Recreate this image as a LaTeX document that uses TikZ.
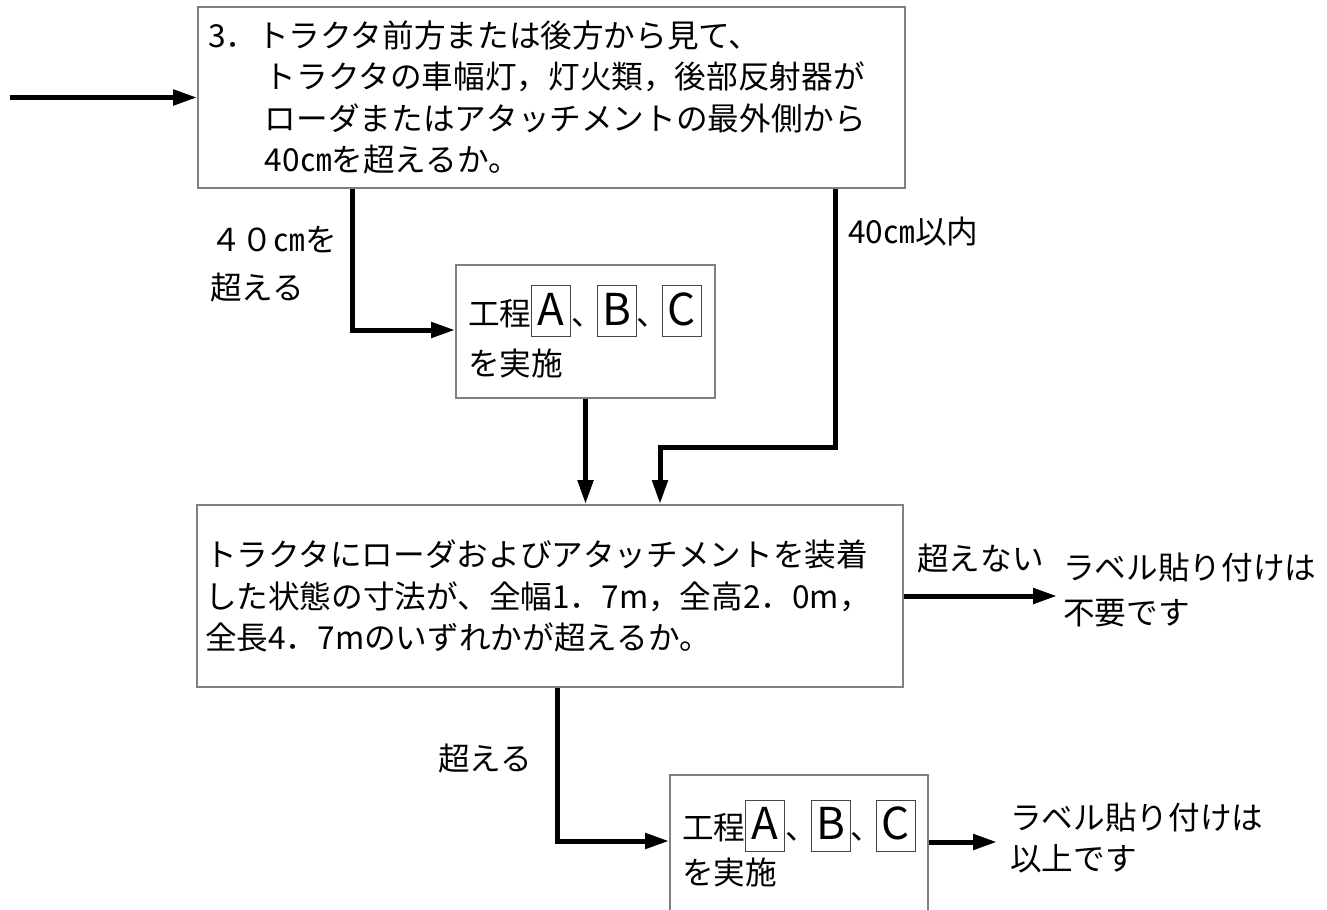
\documentclass[tikz,border=0pt]{standalone}
\usepackage{fontspec}
\setmainfont{Noto Sans CJK JP}
\usetikzlibrary{arrows.meta}
\definecolor{boxgray}{RGB}{128,128,128}
\definecolor{wakugray}{RGB}{70,70,70}
\newcommand{\wakumoji}[1]{{\setlength{\fboxsep}{0pt}\setlength{\fboxrule}{0.6pt}\fcolorbox{wakugray}{white}{\makebox[0.76cm]{\rule[-0.22cm]{0pt}{1.0cm}\fontsize{25}{25}\selectfont#1}}}}
\tikzset{
  jtext/.style={font=\fontsize{18}{23.5}\selectfont},
  flowbox/.style={jtext, draw=boxgray, line width=1.1pt, align=left, inner xsep=0.2cm, inner ysep=0pt},
  sidetext/.style={jtext, inner sep=0pt, align=left, anchor=west},
  flow/.style={line width=2.85pt, -{Triangle[length=0.48cm,width=0.3cm]}}
}
\begin{document}
\begin{tikzpicture}[x=0.02cm,y=-0.02cm]
        \useasboundingbox (0,0) rectangle (1327,909);

        % Coordinates
        \coordinate (in) at (10,97.5);
        \coordinate (bendA) at (352,330);
        \coordinate (bendB) at (835,447);
        \coordinate (bendC) at (660,447);
        \coordinate (bendD) at (557,841);
        \coordinate (endA) at (1057,596);
        \coordinate (endB) at (997,842);

        % Boxes
        \node[flowbox, minimum width=14.14cm, minimum height=3.62cm, text width=13.74cm] (q1) at (551.5,97.5)
          {3．トラクタ前方または後方から見て、\\
           \hspace*{1.8em}トラクタの車幅灯，灯火類，後部反射器が\\
           \hspace*{1.8em}ローダまたはアタッチメントの最外側から\\
           \hspace*{1.8em}40㎝を超えるか。};
        \node[flowbox, inner xsep=0.24cm, minimum width=5.18cm, minimum height=2.66cm, text width=4.70cm] (s1) at (585.5,331.5)
          {工程\wakumoji{A}、\kern-0.13cm\wakumoji{B}、\kern-0.13cm\wakumoji{C}\\[0.17cm]
           を実施};
        \node[flowbox, inner xsep=0.16cm, minimum width=14.12cm, minimum height=3.64cm, text width=13.80cm] (q2) at (550,596)
          {トラクタにローダおよびアタッチメントを装着\\
           した状態の寸法が、全幅1．7m，全高2．0m，\\
           全長4．7mのいずれかが超えるか。};
        \node[flowbox, inner xsep=0.24cm, minimum width=5.16cm, minimum height=2.74cm, text width=4.68cm] (s2) at (799,843.5)
          {工程\wakumoji{A}、\kern-0.13cm\wakumoji{B}、\kern-0.13cm\wakumoji{C}\\[0.08cm]
           を実施};

        % Labels
        \node[sidetext] (over40) at (210,264) {４０㎝を\\[0.14cm]超える};
        \node[sidetext] (within40) at (848,232) {40㎝以内};
        \node[jtext, inner sep=0pt] (over) at (485,758) {超える};
        \node[sidetext] (notover) at (917,558) {超えない};
        \node[sidetext] (nolabel) at (1063,590) {ラベル貼り付けは\\[0.07cm]不要です};
        \node[sidetext] (done) at (1010,838) {ラベル貼り付けは\\以上です};

        % Drawing
        \draw[flow] (in) -- (q1.west);
        \draw[flow] (bendA |- q1.south) -- (bendA) -- (bendA -| s1.west);
        \draw[flow] (bendB |- q1.south) -- (bendB) -- (bendC) -- (bendC |- q2.north);
        \draw[flow] (s1.south) -- (s1.south |- q2.north);
        \draw[flow] (q2.east) -- (endA);
        \draw[flow] (bendD |- q2.south) -- (bendD) -- (bendD -| s2.west);
        \draw[flow] (s2.east |- endB) -- (endB);
\end{tikzpicture}
\end{document}
